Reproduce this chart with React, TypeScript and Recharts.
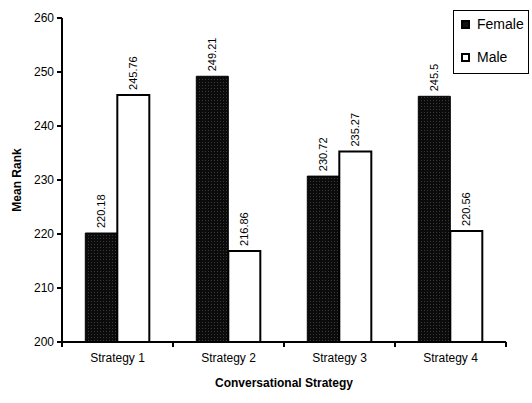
import { Bar, BarChart, LabelList, Legend, XAxis, YAxis } from "recharts";

const strategies = ["Strategy 1", "Strategy 2", "Strategy 3", "Strategy 4"];
const female = [220.18, 249.21, 230.72, 245.5];
const male = [245.76, 216.86, 235.27, 220.56];
const yTicks = [200, 210, 220, 230, 240, 250, 260];

const data = strategies.map((name, i) => ({ name, Female: female[i], Male: male[i] }));

const FONT = "Arial, 'Liberation Sans', sans-serif";

function ValueLabel(props: any) {
  const { x, y, width, value } = props;
  const cx = Number(x) + Number(width) / 2;
  const ty = Number(y) - 5;
  return (
    <text
      x={cx}
      y={ty}
      transform={`rotate(-90, ${cx}, ${ty})`}
      textAnchor="start"
      dominantBaseline="central"
      fontSize={11}
      fontFamily={FONT}
      fill="#000"
    >
      {value}
    </text>
  );
}

function CategoryTick(props: any) {
  const { x, y, payload, index } = props;
  const half = payload.offset ?? 0;
  const axisY = y - 8;
  const last = index === strategies.length - 1;
  return (
    <g>
      <line x1={x - half} x2={x - half} y1={axisY} y2={axisY + 5} stroke="#000" strokeWidth={2} />
      {last && <line x1={x + half} x2={x + half} y1={axisY} y2={axisY + 5} stroke="#000" strokeWidth={2} />}
      <text x={x} y={y + 12} textAnchor="middle" fontSize={12} fontFamily={FONT} fill="#000">
        {payload.value}
      </text>
    </g>
  );
}

function LegendBox() {
  const items = [
    { name: "Female", fill: "#111", border: "#000" },
    { name: "Male", fill: "#fff", border: "#000" },
  ];
  return (
    <div
      style={{
        border: "1px solid #000",
        background: "#fff",
        width: 74,
        height: 62,
        boxSizing: "content-box",
        fontFamily: FONT,
        fontSize: 14,
        color: "#000",
      }}
    >
      {items.map((it, i) => (
        <div key={it.name} style={{ position: "absolute", left: 8, top: i === 0 ? 6 : 39, display: "flex", alignItems: "center" }}>
          <span
            style={{
              display: "inline-block",
              width: 5,
              height: 5,
              background: it.fill,
              border: `2px solid ${it.border}`,
              marginRight: 7,
            }}
          />
          <span>{it.name}</span>
        </div>
      ))}
    </div>
  );
}

export default function App() {
  return (
    <div style={{ position: "absolute", left: 0, top: 0, width: 532, height: 403, background: "#fff" }}>
      <BarChart
        width={532}
        height={403}
        data={data}
        margin={{ top: 18, right: 26, left: 12, bottom: 0 }}
        barCategoryGap="21%"
        barGap={0}
      >
        <defs>
          <pattern id="dots" width="3" height="3" patternUnits="userSpaceOnUse">
            <rect width="3" height="3" fill="#0b0b0b" />
            <rect x="1" y="1" width="1" height="1" fill="#3a3a3a" />
          </pattern>
        </defs>
        <XAxis
          dataKey="name"
          height={61}
          axisLine={{ stroke: "#000", strokeWidth: 2 }}
          tickLine={false}
          tick={<CategoryTick />}
          interval={0}
          label={{
            value: "Conversational Strategy",
            position: "insideBottom",
            offset: 16,
            style: { fontFamily: FONT, fontSize: 12, fontWeight: "bold", fill: "#000" },
          }}
        />
        <YAxis
          width={50}
          domain={[200, 260]}
          ticks={yTicks}
          interval={0}
          axisLine={{ stroke: "#000", strokeWidth: 2 }}
          tickLine={{ stroke: "#000", strokeWidth: 2 }}
          tickSize={5}
          tickMargin={3}
          tick={{ fontFamily: FONT, fontSize: 12, fill: "#000" }}
          label={{
            value: "Mean Rank",
            angle: -90,
            position: "insideLeft",
            offset: 5,
            style: { fontFamily: FONT, fontSize: 12, fontWeight: "bold", fill: "#000", textAnchor: "middle" },
          }}
        />
        <Legend
          layout="vertical"
          align="center"
          verticalAlign="middle"
          content={() => <LegendBox />}
          wrapperStyle={{ position: "absolute", left: 453, top: 10, width: 76, height: 64 }}
        />
        <Bar dataKey="Female" fill="url(#dots)" stroke="#000" strokeWidth={1} isAnimationActive={false}>
          <LabelList dataKey="Female" content={<ValueLabel />} />
        </Bar>
        <Bar dataKey="Male" fill="#fff" stroke="#000" strokeWidth={2} isAnimationActive={false}>
          <LabelList dataKey="Male" content={<ValueLabel />} />
        </Bar>
      </BarChart>
    </div>
  );
}
